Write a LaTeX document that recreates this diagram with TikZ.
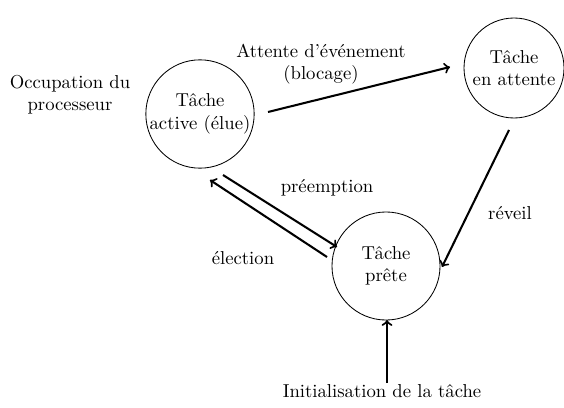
\documentclass[tikz,border=0pt]{standalone}
\usetikzlibrary{calc}
\begin{document}
\begin{tikzpicture}[x=0.535pt,y=-0.535pt,
  state/.style={draw,circle,line width=0.45pt,inner sep=0pt,align=center},
  arr/.style={->,line width=1.1pt},
  lbl/.style={align=center,inner sep=0pt}]
\useasboundingbox (0,0) rectangle (564,407);
\node[state,minimum size=57.8pt] (A) at (200,114) {Tâche\\active (élue)};
\node[state,minimum size=53.5pt] (T) at (514,68) {Tâche\\en attente};
\node[state,minimum size=57.8pt] (P) at (386,266) {Tâche\\prête};
\node[lbl] (occ) at (70,95) {Occupation du\\processeur};
\node[lbl] (blk) at (321,64) {Attente d'événement\\(blocage)};
\node[lbl] (rev) at (510,213) {réveil};
\node[lbl] (pre) at (327,188) {préemption};
\node[lbl] (ele) at (243,258) {élection};
\node[lbl] (ini) at (382,391) {Initialisation de la tâche};
\coordinate (inistart) at (387,383);
\draw[arr] ($(A)+(68,-2)$) -- ($(T)+(-64,-1)$);
\draw[arr] ($(T)+(-5,62)$) -- ($(P)+(56,1)$);
\draw[arr] ($(A)+(23,61)$) -- ($(P)+(-49,-19)$);
\draw[arr] ($(P)+(-59,-9)$) -- ($(A)+(10,66)$);
\draw[arr] (inistart) -- ($(P)+(1,54)$);
\end{tikzpicture}
\end{document}
